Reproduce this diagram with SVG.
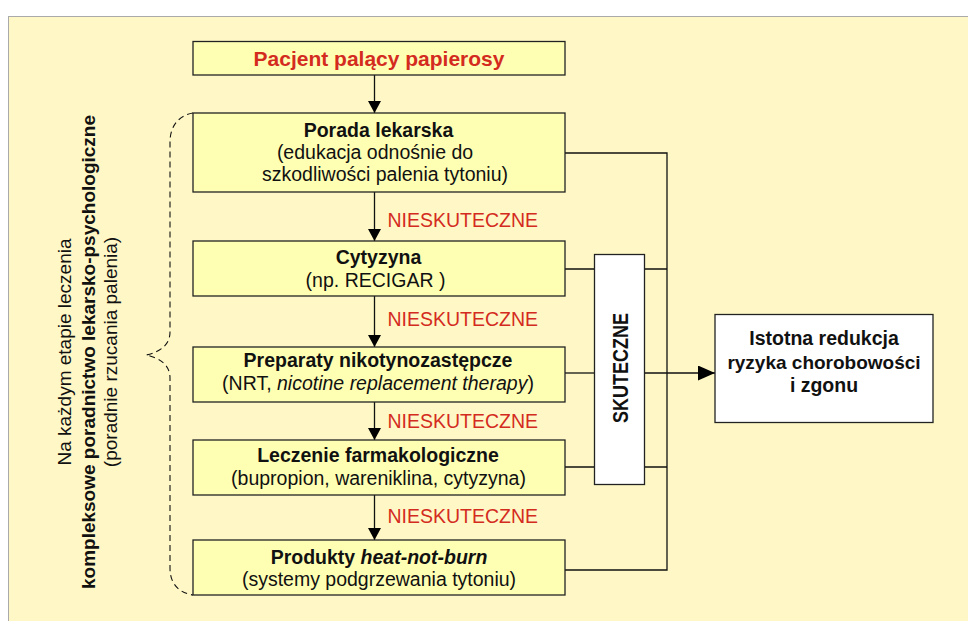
<svg xmlns="http://www.w3.org/2000/svg" width="968" height="621" viewBox="0 0 968 621">
<defs>
<style>
.box{fill:#FFFFB4;stroke:#222;stroke-width:1.3}
.wbox{fill:#FFFFFF;stroke:#222;stroke-width:1.3}
.t{font-family:"Liberation Sans",Arial,sans-serif;font-size:19.5px;fill:#111;text-anchor:middle}
.b{font-weight:bold}
.red{fill:#D42B1F}
.ln{fill:none;stroke:#111;stroke-width:1.3}
</style>
<marker id="ah" markerUnits="userSpaceOnUse" markerWidth="12" markerHeight="13" refX="12" refY="6.5" orient="auto">
<path d="M0,0 L12,6.5 L0,13 z" fill="#000"/>
</marker>
<marker id="ahb" markerUnits="userSpaceOnUse" markerWidth="17" markerHeight="15" refX="17" refY="7.5" orient="auto">
<path d="M0,0 L17,7.5 L0,15 z" fill="#000"/>
</marker>
</defs>
<rect x="0" y="0" width="968" height="621" fill="#FFFFFF"/>
<rect x="8.5" y="16.5" width="970" height="620" fill="#FFF8C6" stroke="#AAAAAA" stroke-width="1"/>

<g id="connectors">
<path class="ln" d="M374.5,75 V113" marker-end="url(#ah)"/>
<path class="ln" d="M374.5,192 V241" marker-end="url(#ah)"/>
<path class="ln" d="M374.5,296 V347" marker-end="url(#ah)"/>
<path class="ln" d="M374.5,402 V440" marker-end="url(#ah)"/>
<path class="ln" d="M374.5,495 V540" marker-end="url(#ah)"/>
<path class="ln" d="M565,153 H667 V570 H565"/>
<path class="ln" d="M565,269 H594.5 M644.5,269 H667"/>
<path class="ln" d="M565,373 H594.5"/>
<path class="ln" d="M644.5,373 H715" marker-end="url(#ahb)"/>
<path class="ln" d="M565,467 H594.5 M644.5,467 H667"/>
<path d="M193,113 C180,115 170,125 170,142 L170,332 C170,345 160,352 146,355 C160,358 170,365 170,378 L170,568 C170,585 180,593 193,595" fill="none" stroke="#111" stroke-width="1.1" stroke-dasharray="6 4"/>
<text class="t red" x="387.5" y="227" style="text-anchor:start">NIESKUTECZNE</text>
<text class="t red" x="387.5" y="326" style="text-anchor:start">NIESKUTECZNE</text>
<text class="t red" x="387.5" y="428" style="text-anchor:start">NIESKUTECZNE</text>
<text class="t red" x="387.5" y="523" style="text-anchor:start">NIESKUTECZNE</text>
</g>

<g id="start">
<rect class="box" x="193" y="41.5" width="372" height="33.5"/>
<text class="t b red" x="379" y="65.5" style="font-size:21px">Pacjent palący papierosy</text>
</g>

<g id="porada">
<rect class="box" x="193" y="113" width="372" height="79"/>
<text class="t b" x="378.5" y="137">Porada lekarska</text>
<text class="t" x="375" y="159">(edukacja odnośnie do</text>
<text class="t" x="385" y="181">szkodliwości palenia tytoniu)</text>
</g>

<g id="cytyzyna">
<rect class="box" x="193" y="241" width="372" height="55"/>
<text class="t b" x="378.5" y="263.5">Cytyzyna</text>
<text class="t" x="375.5" y="287">(np. RECIGAR )</text>
</g>

<g id="nrt">
<rect class="box" x="193" y="347" width="372" height="55"/>
<text class="t b" x="378" y="367">Preparaty nikotynozastępcze</text>
<text class="t" x="378" y="389.5">(NRT, <tspan font-style="italic">nicotine replacement therapy</tspan>)</text>
</g>

<g id="farmako">
<rect class="box" x="193" y="440" width="372" height="55"/>
<text class="t b" x="378" y="462">Leczenie farmakologiczne</text>
<text class="t" x="378.5" y="485">(bupropion, wareniklina, cytyzyna)</text>
</g>

<g id="hnb">
<rect class="box" x="193" y="540" width="372" height="55"/>
<text class="t b" x="379" y="563.5">Produkty <tspan font-style="italic">heat-not-burn</tspan></text>
<text class="t" x="379" y="585.5">(systemy podgrzewania tytoniu)</text>
</g>

<g id="skuteczne">
<rect class="wbox" x="594.5" y="254.5" width="50" height="230"/>
<text class="t b" transform="translate(628,368) rotate(-90)" x="0" y="0" style="font-size:22.5px" textLength="110" lengthAdjust="spacingAndGlyphs">SKUTECZNE</text>
</g>

<g id="wynik">
<rect class="wbox" x="715" y="314.5" width="218" height="108"/>
<text class="t b" x="824" y="345" style="font-size:19.5px">Istotna redukcja</text>
<text class="t b" x="824" y="368.5" style="font-size:19px">ryzyka chorobowości</text>
<text class="t b" x="824" y="392" style="font-size:19.5px">i zgonu</text>
</g>

<g id="opis">
<text class="t" transform="translate(71,352) rotate(-90)" x="0" y="0" style="font-size:19px">Na każdym etapie leczenia</text>
<text class="t b" transform="translate(94.5,352) rotate(-90)" x="0" y="0" style="font-size:19px">kompleksowe poradnictwo lekarsko-psychologiczne</text>
<text class="t" transform="translate(117,352) rotate(-90)" x="0" y="0" style="font-size:19px">(poradnie rzucania palenia)</text>
</g>
</svg>
